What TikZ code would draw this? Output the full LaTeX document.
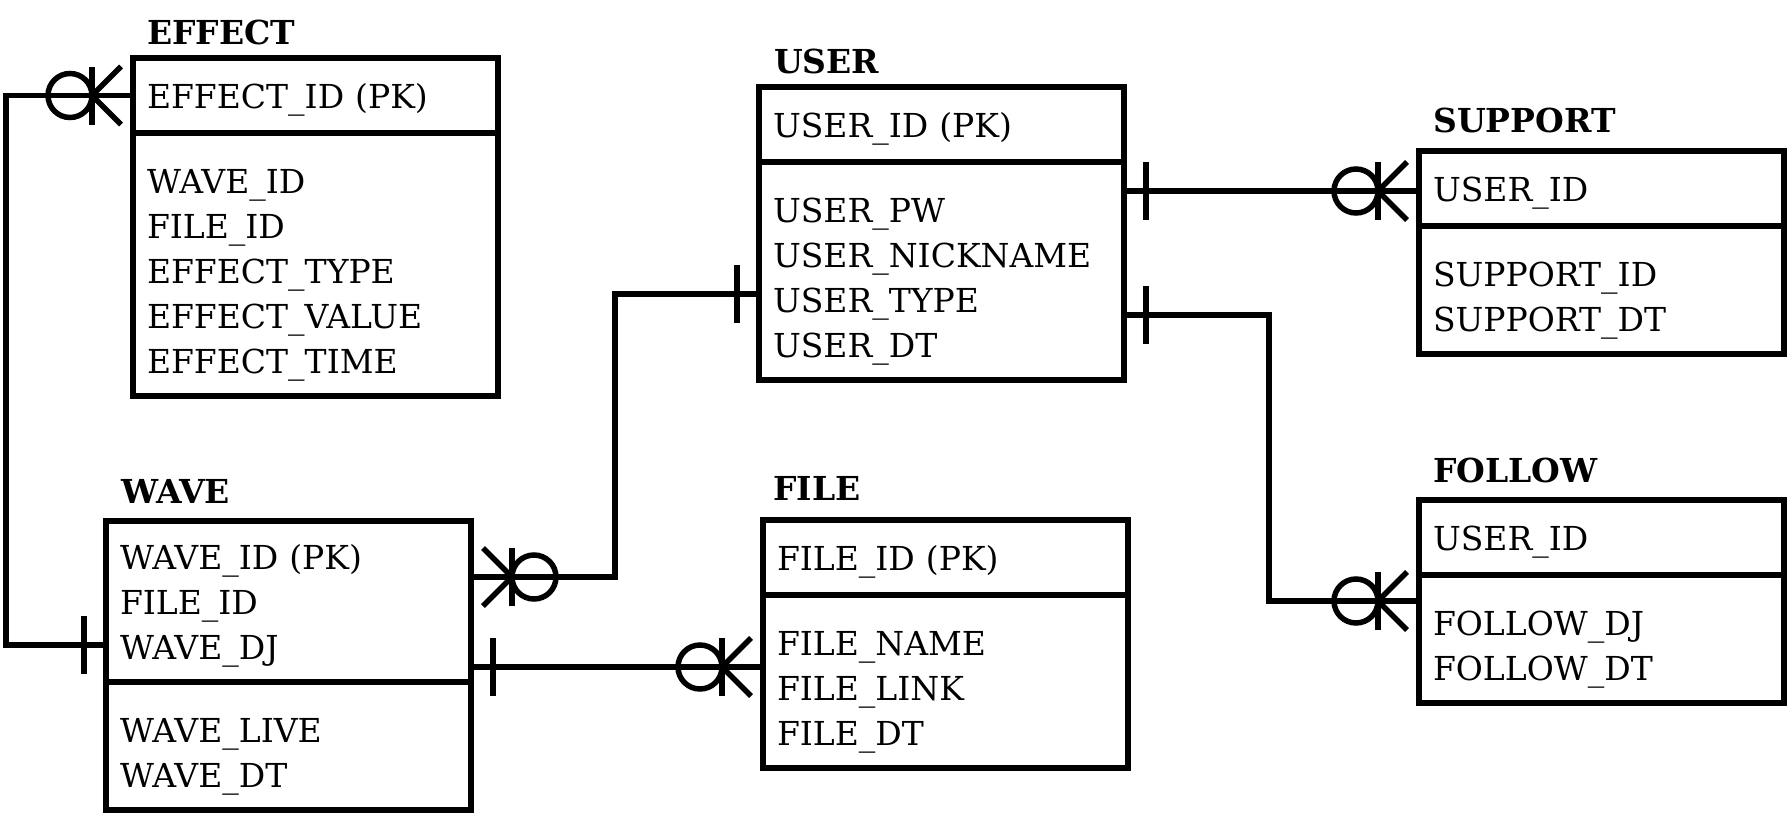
\documentclass[tikz,border=0pt]{standalone}
\usepackage{fontspec}
\setmainfont{DejaVu Serif}
\usetikzlibrary{positioning,calc}

\tikzset{
  tbl/.style={draw, line width=6.5pt, outer sep=0pt, inner xsep=14pt, inner ysep=15pt,
    text width=337pt, align=left, font=\fontsize{33}{45}\selectfont},
  pkrow/.style={tbl, anchor=north west, minimum height=75pt, text height=25pt, text depth=0pt},
  attrrows/.style={tbl},
  tname/.style={inner sep=0pt, anchor=base west, font=\fontsize{33}{38}\selectfont\bfseries},
  rel/.style={line width=5.5pt},
  % zero or many, x axis points away from the table
  zmany/.pic={
    \draw[rel] (12,-29) -- (41,0);
    \draw[rel] (12,29) -- (41,0);
    \draw[rel] (41,-29) -- (41,29);
    \draw[rel] (63,0) circle[radius=22pt];
  },
  % exactly one
  onebar/.pic={\draw[rel] (22,-29) -- (22,29);}
}

\begin{document}
\begin{tikzpicture}[x=1pt, y=-1pt]
	\useasboundingbox (0,0) rectangle (1788,827);

	% Tables
	\node [pkrow] (effectK) at (133,58) {EFFECT\_ID (PK)};
	\node [attrrows, below=0pt of effectK] (effectA) {\mbox{}\\WAVE\_ID\\FILE\_ID\\EFFECT\_TYPE\\EFFECT\_VALUE\\EFFECT\_TIME};
	\node [tname, above right=14pt and 14pt of effectK.north west, anchor=base west] (effectT) {EFFECT};

	\node [pkrow] (userK) at (759,87) {USER\_ID (PK)};
	\node [attrrows, below=0pt of userK] (userA) {\mbox{}\\USER\_PW\\USER\_NICKNAME\\USER\_TYPE\\USER\_DT};
	\node [tname, above right=14pt and 15pt of userK.north west, anchor=base west] (userT) {USER};

	\node [pkrow] (supportK) at (1419,151) {USER\_ID};
	\node [attrrows, below=0pt of supportK] (supportA) {\mbox{}\\SUPPORT\_ID\\SUPPORT\_DT};
	\node [tname, above right=19pt and 14pt of supportK.north west, anchor=base west] (supportT) {SUPPORT};

	\node [pkrow] (followK) at (1419,500) {USER\_ID};
	\node [attrrows, below=0pt of followK] (followA) {\mbox{}\\FOLLOW\_DJ\\FOLLOW\_DT};
	\node [tname, above right=18pt and 14pt of followK.north west, anchor=base west] (followT) {FOLLOW};

	\node [pkrow] (fileK) at (763,520) {FILE\_ID (PK)};
	\node [attrrows, below=0pt of fileK] (fileA) {\mbox{}\\FILE\_NAME\\FILE\_LINK\\FILE\_DT};
	\node [tname, above right=20pt and 10pt of fileK.north west, anchor=base west] (fileT) {FILE};

	\node [pkrow, minimum height=161pt, text depth=90pt] (waveK) at (106,521) {WAVE\_ID (PK)\\FILE\_ID\\WAVE\_DJ};
	\node [attrrows, below=0pt of waveK] (waveA) {\mbox{}\\WAVE\_LIVE\\WAVE\_DT};
	\node [tname, above right=18pt and 15pt of waveK.north west, anchor=base west] (waveT) {WAVE};

	% Ports
	\coordinate (waveL)   at ($(waveK.south west)+(0,-37)$);
	\coordinate (waveR1)  at ($(waveK.north east)+(0,56)$);
	\coordinate (waveR2)  at ($(waveK.north east)+(0,146)$);
	\coordinate (userL)   at ($(userA.north west)+(0,132)$);
	\coordinate (userR1)  at ($(userA.north east)+(0,29)$);
	\coordinate (userR2)  at ($(userA.north east)+(0,153)$);
	\coordinate (followL) at ($(followA.north west)+(0,26)$);

	% Relations
	\draw [rel] (effectK.west) -- ++(-127,0) |- (waveL);
	\draw [rel] (waveR1) -- ++(144,0) |- (userL);
	\draw [rel] (waveR2) -- (waveR2 -| fileA.west);
	\draw [rel] (userR1) -- (userR1 -| supportK.west);
	\draw [rel] (userR2) -- ++(145,0) |- (followL);

	% Ends
	\pic [rotate=180] at (effectK.west) {zmany};
	\pic [rotate=180] at (waveL) {onebar};
	\pic at (waveR1) {zmany};
	\pic [rotate=180] at (userL) {onebar};
	\pic at (waveR2) {onebar};
	\pic [rotate=180] at (waveR2 -| fileA.west) {zmany};
	\pic at (userR1) {onebar};
	\pic [rotate=180] at (userR1 -| supportK.west) {zmany};
	\pic at (userR2) {onebar};
	\pic [rotate=180] at (followL) {zmany};
\end{tikzpicture}
\end{document}
